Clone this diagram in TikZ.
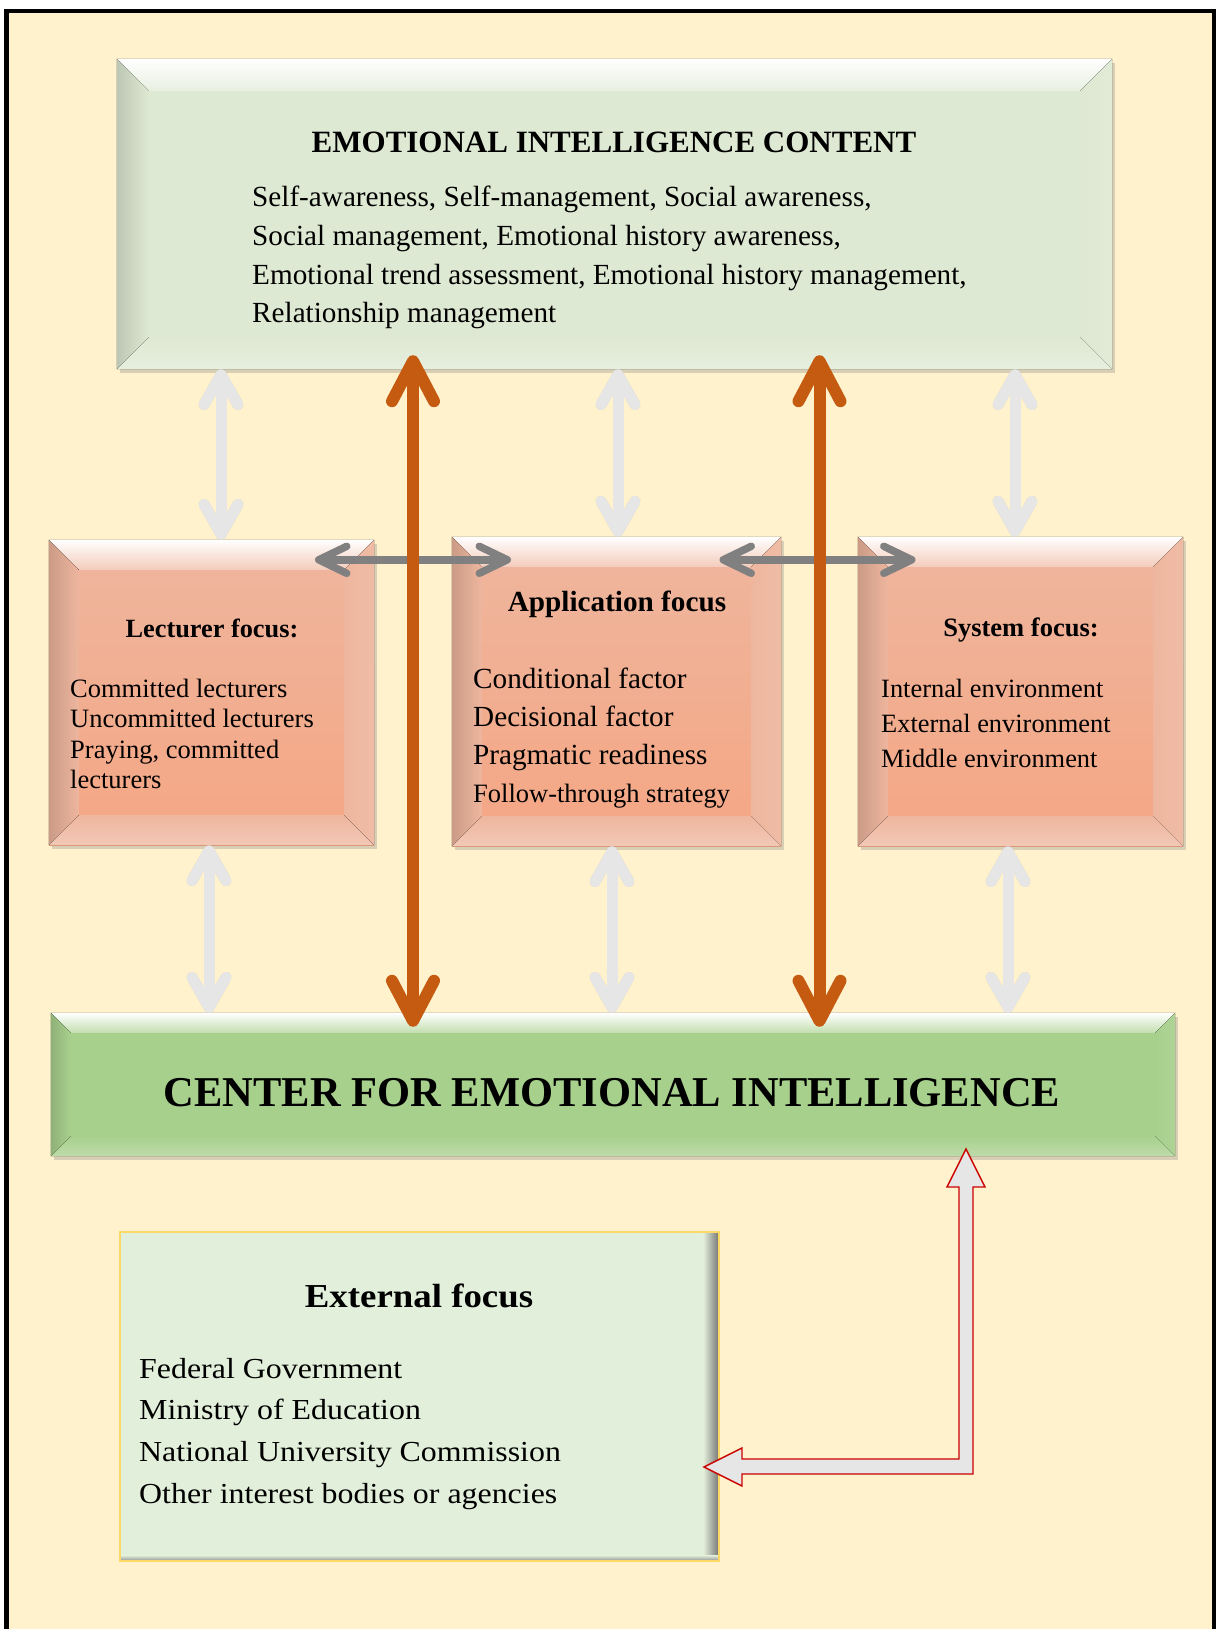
\documentclass[tikz,border=0pt]{standalone}
\usepackage{fontspec}
\setmainfont{Liberation Serif}
\usetikzlibrary{arrows.meta,calc,shadows}

\definecolor{cream}{RGB}{255,242,204}
\definecolor{sage}{RGB}{222,233,211}
\definecolor{salmontop}{RGB}{238,182,158}
\definecolor{salmonbot}{RGB}{245,166,132}
\definecolor{leaf}{RGB}{168,208,141}
\definecolor{mint}{RGB}{226,239,218}
\definecolor{gold}{RGB}{255,217,102}
\definecolor{rust}{RGB}{197,90,17}
\definecolor{fog}{RGB}{230,230,230}
\definecolor{slate}{RGB}{128,128,128}
\definecolor{brick}{RGB}{204,0,0}

% four bevel faces round a box node: #1 node, #2 depth, #3 colour
\newcommand{\bevelrim}[3]{%
\fill[top color=white,bottom color=#3!70!white] (#1.north west) -- (#1.north east) -- ($(#1.north east)+(-#2,#2)$) -- ($(#1.north west)+(#2,#2)$) -- cycle;
\fill[left color=#3!85!black,right color=#3] (#1.north west) -- ($(#1.north west)+(#2,#2)$) -- ($(#1.south west)+(#2,-#2)$) -- (#1.south west) -- cycle;
\fill[right color=#3!92!white,left color=#3] (#1.north east) -- (#1.south east) -- ($(#1.south east)+(-#2,-#2)$) -- ($(#1.north east)+(-#2,#2)$) -- cycle;
\fill[bottom color=#3!75!white,top color=#3] (#1.south west) -- ($(#1.south west)+(#2,-#2)$) -- ($(#1.south east)+(-#2,-#2)$) -- (#1.south east) -- cycle;
}

\begin{document}
\begin{tikzpicture}[x=1pt,y=-1pt,
box/.style={rectangle,inner sep=0pt,drop shadow={shadow xshift=3pt,shadow yshift=-4pt,opacity=.3}},
head/.style={inner sep=0pt,anchor=base,font=\fontsize{#1}{#1}\selectfont\bfseries},
body/.style={inner sep=0pt,anchor=base west,font=\fontsize{#1}{#1}\selectfont},
dbl/.style={<->,>={Straight Barb[length=30pt,width=34pt,round]},line width=11pt,draw=fog},
dblshade/.style={dbl,draw=black!70,opacity=.18,xshift=4pt,yshift=-5pt},
orng/.style={<->,>={Straight Barb[length=40pt,width=42pt,round]},line width=12pt,draw=rust,shorten <=-14pt,shorten >=-14pt},
link/.style={<->,>={Straight Barb[length=28pt,width=27pt,round]},line width=7.5pt,draw=slate},
blockarrow/.style={draw=brick,fill=fog,line width=1.4pt,line join=miter}]

\useasboundingbox (0,0) rectangle (1217,1629);
\clip (0,0) rectangle (1217,1629);
\fill[white] (0,0) rectangle (1217,1629);
\fill[cream] (6.5,11) rectangle (1214,1660);
\draw[line width=4.5pt] (6.5,11) rectangle (1214,1660);

% boxes
\node[box,minimum width=995pt,minimum height=310pt,fill=sage] (eic) at (614.5,214) {};
\node[box,minimum width=325pt,minimum height=305pt,top color=salmontop,bottom color=salmonbot] (lect) at (211.5,692.5) {};
\node[box,minimum width=329pt,minimum height=309pt,top color=salmontop,bottom color=salmonbot] (app) at (616.5,691.5) {};
\node[box,minimum width=325pt,minimum height=309pt,top color=salmontop,bottom color=salmonbot] (sys) at (1020.5,691.5) {};
\node[box,minimum width=1124pt,minimum height=143pt,fill=leaf] (cent) at (613,1084.5) {};
\node[rectangle,inner sep=0pt,minimum width=599pt,minimum height=329pt,fill=mint] (ext) at (419.5,1396.5) {};

\bevelrim{eic}{32}{sage}
\bevelrim{lect}{30}{salmontop}
\bevelrim{app}{30}{salmontop}
\bevelrim{sys}{30}{salmontop}
\bevelrim{cent}{20}{leaf}

\fill[left color=mint,right color=black!55] ($(ext.north east)+(-16,0)$) rectangle (ext.south east);
\fill[top color=mint,bottom color=black!45] ($(ext.south west)+(0,-6)$) rectangle (ext.south east);
\draw[gold,line width=1.5pt] (ext.north west) rectangle (ext.south east);

% texts
\node[head=31] (eic-t) at (614,153) {EMOTIONAL INTELLIGENCE CONTENT};
\foreach \t [count=\i] in {{Self-awareness, Self-management, Social awareness,},{Social management, Emotional history awareness,},{Emotional trend assessment, Emotional history management,},{Relationship management}}
  \node[body=29.2] (eic-\i) at (252,168.5+\i*38.5) {\t};

\node[head=26.3] (lect-t) at (212,637) {Lecturer focus:};
\foreach \t [count=\i] in {Committed lecturers,Uncommitted lecturers,{Praying, committed},lecturers}
  \node[body=26.5] (lect-\i) at (70,666.5+\i*30.5) {\t};

\node[head=29.2] (app-t) at (617,611) {Application focus};
\foreach \t [count=\i] in {Conditional factor,Decisional factor,Pragmatic readiness}
  \node[body=29.2] (app-\i) at (473,650+\i*38) {\t};
\node[body=26.5] (app-4) at (473,802) {Follow-through strategy};

\node[head=26.5] (sys-t) at (1021,636) {System focus:};
\foreach \t [count=\i] in {Internal environment,External environment,Middle environment}
  \node[body=26.4] (sys-\i) at (881,662+\i*35) {\t};

\node[head=42.5] (cent-t) at (612,1106) {CENTER FOR EMOTIONAL INTELLIGENCE};

\node[head=33.5] (ext-t) at (419,1307) {\scalebox{1.1}[1]{External focus}};
\foreach \t [count=\i] in {Federal Government,Ministry of Education,National University Commission,Other interest bodies or agencies}
  \node[body=29] (ext-\i) at (139,1336.3+\i*41.7) {\scalebox{1.1}[1]{\t}};

% light double arrows
\coordinate (c1) at (221,0);
\coordinate (c2) at (618,0);
\coordinate (c3) at (1015,0);
\coordinate (d1) at (209,0);
\coordinate (d2) at (612,0);
\coordinate (d3) at (1008,0);
\foreach \c/\m in {c1/lect,c2/app,c3/sys}{
  \draw[dblshade] (\c |- eic.south) -- (\c |- \m.north);
  \draw[dbl] (\c |- eic.south) -- (\c |- \m.north);
}
\foreach \c/\m in {d1/lect,d2/app,d3/sys}{
  \draw[dblshade] (\c |- \m.south) -- (\c |- cent.north);
  \draw[dbl] (\c |- \m.south) -- (\c |- cent.north);
}

% links between the focus boxes
\coordinate (o1) at ($(lect.east)!.5!(app.west)$);
\coordinate (o2) at ($(app.east)!.5!(sys.west)$);
\draw[link] ($(o1 |- lect.north)+(-98,20)$) -- ($(o1 |- lect.north)+(98,20)$);
\draw[link] ($(o2 |- app.north)+(-100,23)$) -- ($(o2 |- app.north)+(96,23)$);

% long arrows
\draw[orng] (o1 |- eic.south) -- (o1 |- cent.north);
\draw[orng] (o2 |- eic.south) -- (o2 |- cent.north);

% bent block arrow
\coordinate (up) at (966,1149);
\coordinate (lt) at (704,1467);
\draw[blockarrow] (up) -- ++(19,38) -- ++(-12,0) -- ++(0,287) -- ++(-231,0) -- ++(0,12) -- (lt) -- ++(38,-19) -- ++(0,11) -- ++(217,0) -- ++(0,-272) -- ++(-12,0) -- cycle;

\end{tikzpicture}
\end{document}
